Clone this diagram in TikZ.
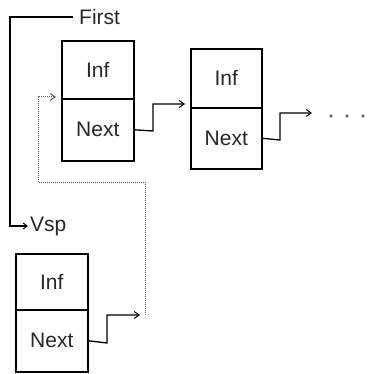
\documentclass[tikz,border=0pt]{standalone}
\usepackage{fontspec}
\setmainfont{Liberation Sans}
\usetikzlibrary{arrows.meta}
\begin{document}
\begin{tikzpicture}[x=1pt,y=-1pt,
  cell/.style={draw=black,line width=1.6pt,anchor=north west,inner sep=0pt,
    font=\fontsize{21}{24}\selectfont,text=black!85},
  lbl/.style={inner sep=0pt,font=\fontsize{21}{24}\selectfont,text=black!85},
  link/.style={draw=black,line width=1.3pt,-{Straight Barb[length=5pt,width=7pt,line width=1pt]}},
  thin/.style={draw=black!65,line width=1pt,densely dotted},
  thinarrow/.style={thin,-{Straight Barb[length=5pt,width=7pt,line width=1pt]}},
  dot/.style={fill=black!55,draw=none}]
\useasboundingbox (0,0) rectangle (368,374);
% box 1
\node[cell,minimum width=72pt,minimum height=58pt] (inf1) at (61,40) {Inf};
\node[cell,minimum width=72pt,minimum height=62pt] (next1) at (61,98) {Next};
% box 2
\node[cell,minimum width=71pt,minimum height=59pt] (inf2) at (190,48) {Inf};
\node[cell,minimum width=71pt,minimum height=61pt] (next2) at (190,107) {Next};
% box 3
\node[cell,minimum width=72pt,minimum height=56pt] (inf3) at (15,253) {Inf};
\node[cell,minimum width=72pt,minimum height=62pt] (next3) at (15,309) {Next};
% labels
\node[lbl,anchor=west] (first) at (79,17) {First};
\node[lbl,anchor=west] (vsp) at (30,226) {Vsp};
% free ends
\coordinate (a1) at (185,104);
\coordinate (a2) at (312,113);
\coordinate (a3) at (140,315);
\coordinate (a4) at (56,97);
% First -> Vsp
\draw[draw=black,line width=1.1pt,-{Straight Barb[length=4pt,width=6pt,line width=1pt]}]
  ([xshift=-6pt]first.west) -- (10,17) |- ([xshift=-2pt]vsp.west);
% next links
\draw[link] (next1.east) -- (153,131) |- (a1);
\draw[link] (next2.east) -- (280,140) |- (a2);
\draw[link] (next3.east) -- (107,343) |- (a3);
% thin loop to first element
\draw[thinarrow] (145,315) -- (145,182) -- (38,182) |- (a4);
% dots
\fill[dot] (331,116) circle (1.8pt);
\fill[dot] (347,116) circle (1.8pt);
\fill[dot] (363,116) circle (1.8pt);
\end{tikzpicture}
\end{document}
